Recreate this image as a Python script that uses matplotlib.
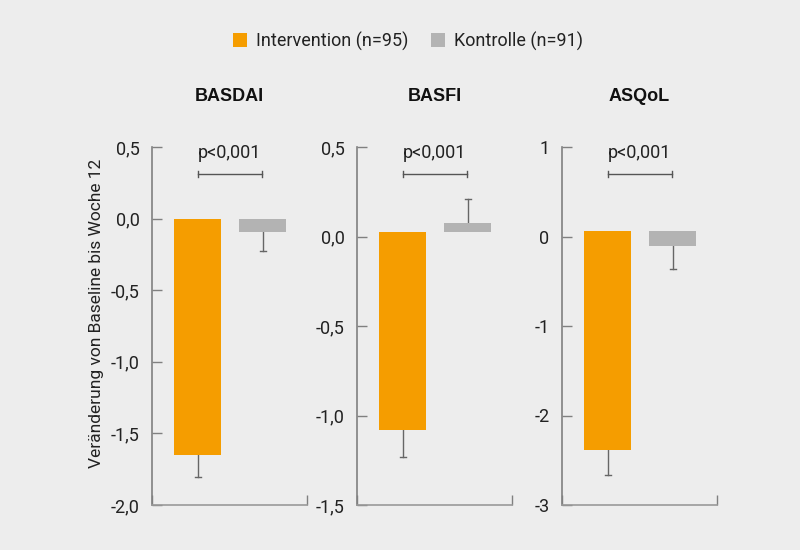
import matplotlib
matplotlib.use("Agg")
import matplotlib.pyplot as plt
from matplotlib.patches import Patch
import matplotlib.transforms as mtransforms

# Werte
scores = ["BASDAI", "BASFI", "ASQoL"]
groups = ["Intervention (n=95)", "Kontrolle (n=91)"]

int_top = [0.0, 0.024, 0.056]
int_end = [-1.65, -1.08, -2.39]
int_err = [-1.805, -1.233, -2.666]

kon_top = [0.0, 0.078, 0.056]
kon_end = [-0.096, 0.026, -0.108]
kon_err = [-0.228, 0.208, -0.367]

pvals = ["p<0,001", "p<0,001", "p<0,001"]

ylims = [(-2.0, 0.5), (-1.5, 0.5), (-3, 1)]
yticks = [[-2.0, -1.5, -1.0, -0.5, 0.0, 0.5],
          [-1.5, -1.0, -0.5, 0.0, 0.5],
          [-3, -2, -1, 0, 1]]
ytick_labels = [["-2,0", "-1,5", "-1,0", "-0,5", "0,0", "0,5"],
                ["-1,5", "-1,0", "-0,5", "0,0", "0,5"],
                ["-3", "-2", "-1", "0", "1"]]

ORANGE = "#F59D00"
GREY = "#B3B3B3"
BG = "#EDEDED"
AXC = "#808080"
ERRC = "#666666"

plt.rcParams['font.family'] = ['Roboto', 'DejaVu Sans']

fig = plt.figure(figsize=(8, 5.5), dpi=100, facecolor=BG)


def whisker(ax, x, y0, y1):
    # einseitiger fehlerbalken mit kappe nur am ende
    ax.plot([x, x], [y0, y1], color=ERRC, lw=1)
    ax.plot([x - 3, x + 3], [y1, y1], color=ERRC, lw=1)


lefts = [152, 357, 562]
for i in range(3):
    ax = fig.add_axes([lefts[i] / 800, 1 - 505 / 550, 155 / 800, 358 / 550])
    ax.set_facecolor(BG)
    ax.set_xlim(0, 155)
    ax.set_ylim(*ylims[i])

    # balken
    ax.bar(45.5, int_end[i] - int_top[i], bottom=int_top[i], width=47,
           color=ORANGE, linewidth=0, zorder=3)
    ax.bar(110.5, kon_end[i] - kon_top[i], bottom=kon_top[i], width=47,
           color=GREY, linewidth=0, zorder=3)

    whisker(ax, 45.5, int_end[i], int_err[i])
    if kon_err[i] > kon_top[i]:
        whisker(ax, 110.5, kon_top[i], kon_err[i])
    else:
        whisker(ax, 110.5, kon_end[i], kon_err[i])

    for s in ["top", "right"]:
        ax.spines[s].set_visible(False)
    ax.spines["left"].set_color(AXC)
    ax.spines["bottom"].set_color("#999999")
    ax.spines["left"].set_linewidth(1.2)
    ax.spines["bottom"].set_linewidth(1.2)

    ax.set_yticks(yticks[i])
    ax.set_yticklabels(ytick_labels[i], fontsize=13)
    ax.tick_params(axis='y', direction='in', length=7, width=1, colors=AXC,
                   labelcolor="#222222", pad=9)
    ax.set_xticks([0, 155])
    ax.set_xticklabels(["", ""])
    ax.tick_params(axis='x', direction='in', length=7, width=1, colors=AXC)

    # titel und p-wert
    ax.text(0.5, 1.1397, scores[i], transform=ax.transAxes, ha='center',
            va='center', fontsize=13, fontweight='bold',
            family=['Liberation Sans', 'DejaVu Sans'], color="#111111")
    ax.text(0.5, 0.983, pvals[i], transform=ax.transAxes, ha='center',
            va='center', fontsize=13, color="#222222")
    trans = mtransforms.blended_transform_factory(ax.transData, ax.transAxes)
    ax.plot([46, 110], [0.9246, 0.9246], color="#555555", lw=1,
            transform=trans, clip_on=False)
    for xx in (46, 110):
        ax.plot([xx, xx], [0.9166, 0.9326], color="#555555", lw=1,
                transform=trans, clip_on=False)

fig.text(0.121, 0.43, "Veränderung von Baseline bis Woche 12", rotation=90,
         ha='center', va='center', fontsize=12.5, color="#222222")

handles = [Patch(facecolor=ORANGE, edgecolor='none'),
           Patch(facecolor=GREY, edgecolor='none')]
fig.legend(handles, groups, loc='center', bbox_to_anchor=(0.51, 0.9255),
           ncol=2, frameon=False, fontsize=13, handlelength=0.75,
           handleheight=0.75, handletextpad=0.5, columnspacing=1.3,
           labelcolor="#222222")

fig.savefig("out.png", dpi=100, facecolor=BG)
